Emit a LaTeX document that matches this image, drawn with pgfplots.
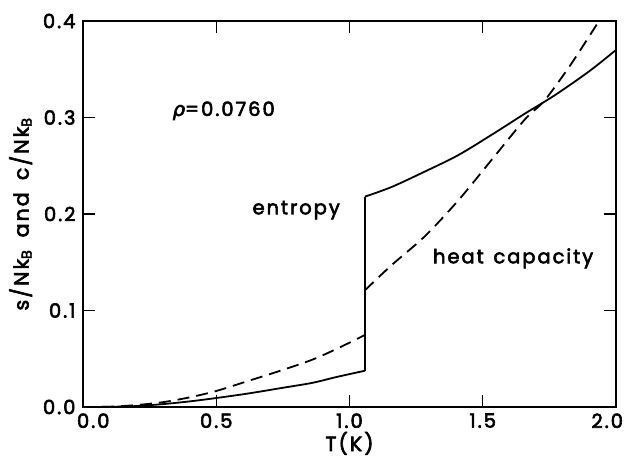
\documentclass[border=0pt]{standalone}
\usepackage{pgfplots}
\pgfplotsset{compat=1.18}
\usepackage{fontspec}
\setmainfont{Poppins}[FakeBold=3, LetterSpace=10]
\newfontfamily\greek{DejaVu Sans}[FakeBold=3]
\begin{document}
\begin{tikzpicture}
\begin{axis}[
  at={(0,0)}, anchor=south west,
  scale only axis, width=533pt, height=386pt,
  xmin=0, xmax=2.0, ymin=0, ymax=0.4,
  xtick={0,0.5,1.0,1.5,2.0}, ytick={0,0.1,0.2,0.3,0.4},
  xticklabels={\makebox[0pt][l]{\hspace{-6pt}0.0},0.5,1.0,1.5,\makebox[0pt][r]{2.0\hspace{-7pt}}},
  yticklabels={0.0,0.1,0.2,0.3,0.4},
  minor tick num=0,
  tick align=inside, major tick length=12pt,
  tick style={line width=1.4pt, black},
  axis line style={line width=1.6pt},
  ticklabel style={font=\fontsize{19.5}{19.5}\selectfont},
  xticklabel style={yshift=-3pt},
  yticklabel style={xshift=-4pt},
  xlabel={T(K)}, ylabel={s/Nk\textsubscript{B}\hspace{0.6em}and\hspace{0.6em}c/Nk\textsubscript{B}},
  label style={font=\fontsize{20.5}{20.5}\selectfont},
  xlabel style={yshift=3pt},
  ylabel style={yshift=4pt},
  clip=true,
  solidc/.style={black, no marks, line width=1.8pt},
  dashc/.style={black, no marks, line width=1.8pt, dash pattern=on 12pt off 7pt},
]
% entropy (solid)
\addplot[solidc, smooth, tension=0.5] coordinates {
 (0.0,0) (0.1,0.0002) (0.2,0.001) (0.3,0.003) (0.4,0.0058) (0.5,0.0093)
 (0.62,0.014) (0.745,0.0197) (0.86,0.025) (0.95,0.031) (1.058,0.0376)
};
\addplot[solidc] coordinates {(1.058,0.0376) (1.058,0.218)};
\addplot[solidc, smooth, tension=0.5] coordinates {
 (1.058,0.218) (1.158,0.228) (1.283,0.244) (1.408,0.261) (1.533,0.282)
 (1.658,0.304) (1.77,0.323) (1.9,0.348) (2.0,0.370)
};
% heat capacity (dashed)
\addplot[dashc, smooth, tension=0.5] coordinates {
 (0.0,0) (0.1,0.0003) (0.2,0.002) (0.3,0.005) (0.4,0.010) (0.5,0.0166)
 (0.62,0.027) (0.745,0.038) (0.86,0.049) (0.95,0.060) (1.058,0.0746)
};
\addplot[dashc] coordinates {(1.058,0.0746) (1.058,0.121)};
\addplot[dashc, smooth, tension=0.5] coordinates {
 (1.058,0.121) (1.158,0.147) (1.283,0.177) (1.408,0.214) (1.533,0.256)
 (1.658,0.298) (1.733,0.318) (1.833,0.356) (1.939,0.401) (2.0,0.425)
};
\node[font=\fontsize{19.5}{19.5}\selectfont] at (axis cs:0.528,0.307) {{\greek\itshape ρ}=0.0760};
\node[font=\fontsize{19.5}{19.5}\selectfont] at (axis cs:0.80,0.204) {entropy};
\node[font=\fontsize{19.5}{19.5}\selectfont] at (axis cs:1.614,0.154) {heat\hspace{0.5em}capacity};
\end{axis}
\pgfresetboundingbox
\path[use as bounding box] (-83pt,-51pt) rectangle (541pt,407pt);
\end{tikzpicture}
\end{document}
